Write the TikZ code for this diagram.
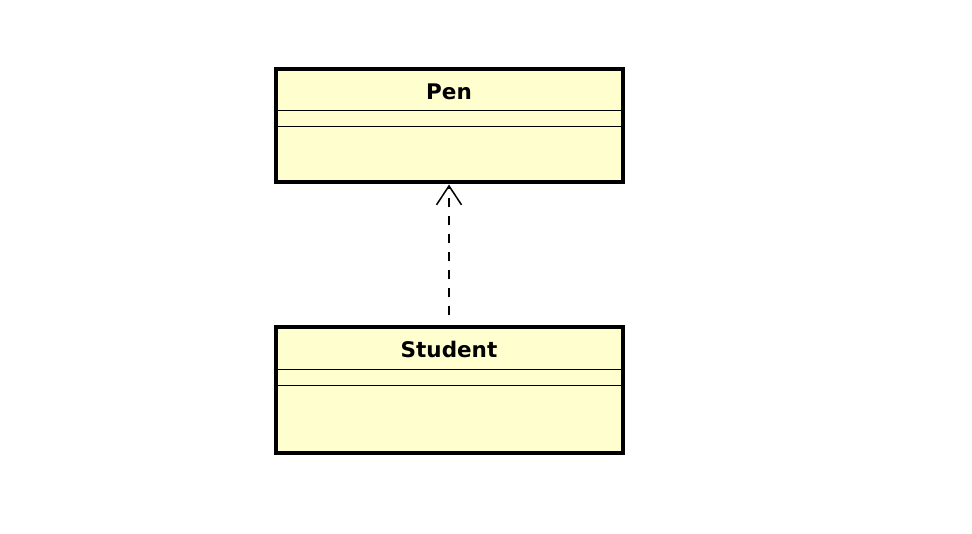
\documentclass[tikz,border=0pt]{standalone}
\usepackage{fontspec}
\setmainfont{DejaVu Sans}
\usetikzlibrary{arrows.meta}
\definecolor{classfill}{HTML}{FEFECE}
\tikzset{
  classbox/.style={draw=black, fill=classfill, line width=4pt, rectangle, minimum width=347pt, inner sep=0pt},
  classtitle/.style={font=\fontsize{21.5}{25}\selectfont\bfseries, inner sep=0pt, anchor=base},
  divider/.style={draw=black, line width=1.8pt},
  dep/.style={draw=black, line width=1.5pt, dash pattern=on 9pt off 9pt, -{Straight Barb[length=19pt,width=25pt,line width=1.5pt]}}
}
\begin{document}
\begin{tikzpicture}[x=1pt,y=-1pt]
\useasboundingbox[fill=white] (0,0) rectangle (972,534);
\node[classbox, minimum height=113pt] (pen) at (449,126) {};
\node[classtitle] (pentitle) at (449,100) {Pen};
\draw[divider] ([yshift=-43pt]pen.north west) -- ([yshift=-43pt]pen.north east);
\draw[divider] ([yshift=-59pt]pen.north west) -- ([yshift=-59pt]pen.north east);
\node[classbox, minimum height=125pt] (student) at (449,390) {};
\node[classtitle] (studenttitle) at (449,358) {Student};
\draw[divider] ([yshift=-44pt]student.north west) -- ([yshift=-44pt]student.north east);
\draw[divider] ([yshift=-60pt]student.north west) -- ([yshift=-60pt]student.north east);
\draw[dep, shorten <=10pt] (student.north) -- (pen.south);
\end{tikzpicture}
\end{document}
